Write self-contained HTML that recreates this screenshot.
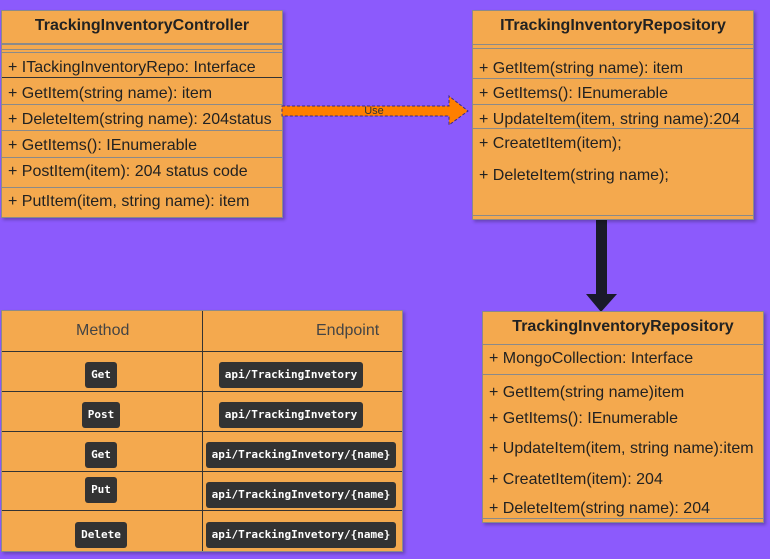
<!DOCTYPE html>
<html><head><style>
body{margin:0;width:770px;height:559px;background:#8c5afc;position:relative;overflow:hidden;font-family:"Liberation Sans",Arial,sans-serif;color:#222}
.box{position:absolute;background:#f4a94e;border:1px solid #8a8a8a;box-shadow:2px 2px 3px rgba(0,0,0,.25)}
.t{position:absolute;font-size:16px;white-space:nowrap;left:6px}
.h{position:absolute;left:0;right:0;text-align:center;font-weight:bold;font-size:16px}
.l{position:absolute;left:0;right:0;height:0;border-top:1px solid #8a8a8a}
.b{position:absolute;background:#333;color:#fff;font-family:"DejaVu Sans Mono","Liberation Mono",monospace;font-weight:bold;font-size:11px;border-radius:3px;line-height:26px;text-align:center;height:26px}
</style></head><body>

<div class="box" style="left:1px;top:10px;width:280px;height:206px">
 <div class="h" style="top:6px">TrackingInventoryController</div>
 <div class="l" style="top:32px;border-top:2px solid #8a8a8a"></div>
 <div class="l" style="top:38px"></div>
 <div class="l" style="top:41px"></div>
 <div class="t" style="top:48px">+ ITackingInventoryRepo: Interface</div>
 <div class="l" style="top:66px;border-color:#333"></div>
 <div class="t" style="top:74px">+ GetItem(string name): item</div>
 <div class="l" style="top:93px"></div>
 <div class="t" style="top:100px">+ DeleteItem(string name): 204status</div>
 <div class="l" style="top:119px"></div>
 <div class="t" style="top:126px">+ GetItems(): IEnumerable</div>
 <div class="l" style="top:146px"></div>
 <div class="t" style="top:152px">+ PostItem(item): 204 status code</div>
 <div class="l" style="top:176px"></div>
 <div class="t" style="top:182px">+ PutItem(item, string name): item</div>
</div>

<svg style="position:absolute;left:0;top:0" width="770" height="559">
 <polygon points="282,106 449,106 449,96 468,111 449,125 449,116 282,116" fill="#ff7f00" stroke="#3a2a8a" stroke-dasharray="3,2"/>
 <text x="374" y="114" font-size="11" font-family="Liberation Sans" fill="#333" text-anchor="middle">Use</text>
 <rect x="596" y="219" width="11" height="76" fill="#1a1a2a"/>
 <polygon points="586,294 617,294 601,312" fill="#1a1a2a"/>
</svg>

<div class="box" style="left:472px;top:10px;width:280px;height:208px">
 <div class="h" style="top:6px">ITrackingInventoryRepository</div>
 <div class="l" style="top:33px"></div>
 <div class="l" style="top:37px"></div>
 <div class="t" style="top:49px">+ GetItem(string name): item</div>
 <div class="l" style="top:67px"></div>
 <div class="t" style="top:74px">+ GetItems(): IEnumerable</div>
 <div class="l" style="top:93px"></div>
 <div class="t" style="top:100px">+ UpdateItem(item, string name):204</div>
 <div class="l" style="top:117px"></div>
 <div class="t" style="top:124px">+ CreatetItem(item);</div>
 <div class="t" style="top:156px">+ DeleteItem(string name);</div>
 <div class="l" style="top:204px"></div>
</div>

<div class="box" style="left:482px;top:311px;width:280px;height:210px">
 <div class="h" style="top:6px">TrackingInventoryRepository</div>
 <div class="l" style="top:32px"></div>
 <div class="t" style="top:38px">+ MongoCollection: Interface</div>
 <div class="l" style="top:62px"></div>
 <div class="t" style="top:72px">+ GetItem(string name)item</div>
 <div class="t" style="top:98px">+ GetItems(): IEnumerable</div>
 <div class="t" style="top:128px">+ UpdateItem(item, string name):item</div>
 <div class="t" style="top:159px">+ CreatetItem(item): 204</div>
 <div class="t" style="top:188px">+ DeleteItem(string name): 204</div>
 <div class="l" style="top:206px"></div>
</div>

<div class="box" style="left:1px;top:310px;width:400px;height:240px;border-color:#8a8a8a">
 <div style="position:absolute;left:200px;top:0;bottom:0;border-left:1px solid #333"></div>
 <div class="t" style="left:74px;top:11px;color:#444">Method</div>
 <div class="t" style="left:314px;top:11px;color:#444">Endpoint</div>
 <div class="l" style="top:40px;border-color:#333"></div>
 <div class="l" style="top:80px;border-color:#333"></div>
 <div class="l" style="top:120px;border-color:#333"></div>
 <div class="l" style="top:160px;border-color:#333"></div>
 <div class="l" style="top:199px;border-color:#333"></div>
</div>
<div class="b" style="left:85px;top:362px;width:32px">Get</div>
<div class="b" style="left:82px;top:402px;width:38px">Post</div>
<div class="b" style="left:85px;top:442px;width:32px">Get</div>
<div class="b" style="left:85px;top:477px;width:32px">Put</div>
<div class="b" style="left:75px;top:522px;width:52px">Delete</div>
<div class="b" style="left:219px;top:362px;width:144px">api/TrackingInvetory</div>
<div class="b" style="left:219px;top:402px;width:144px">api/TrackingInvetory</div>
<div class="b" style="left:206px;top:442px;width:190px">api/TrackingInvetory/{name}</div>
<div class="b" style="left:206px;top:482px;width:190px">api/TrackingInvetory/{name}</div>
<div class="b" style="left:206px;top:522px;width:190px">api/TrackingInvetory/{name}</div>
</body></html>
